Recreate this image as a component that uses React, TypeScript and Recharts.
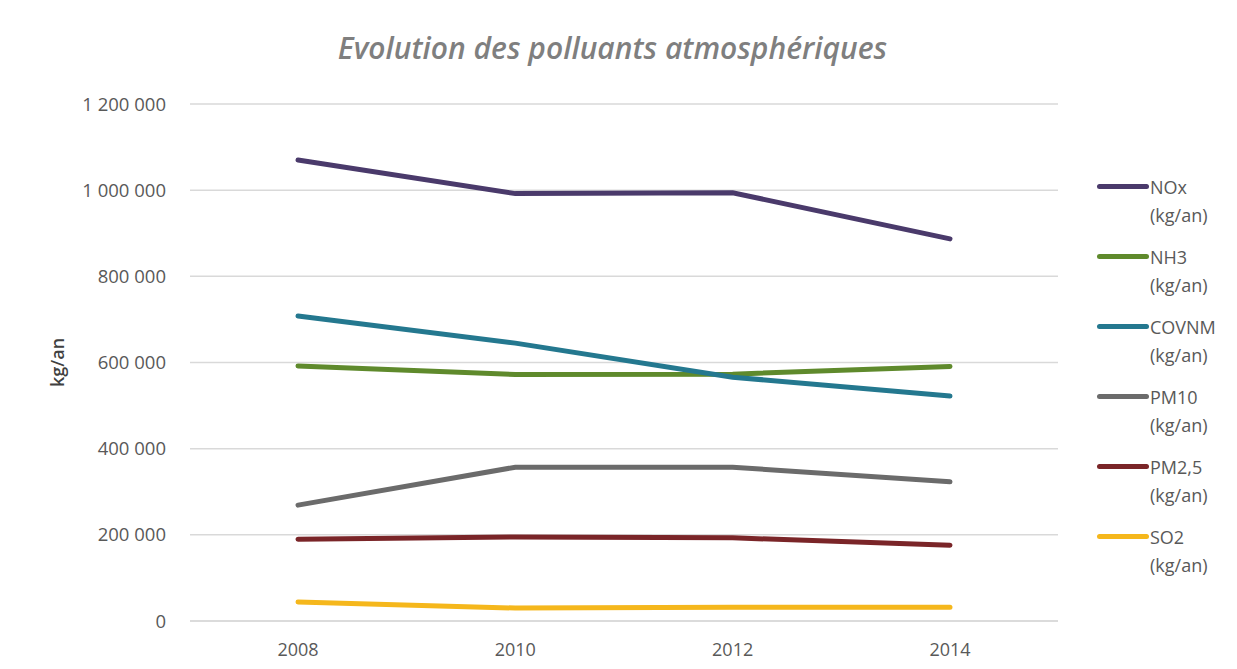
import React from "react";
import { LineChart, Line, XAxis, YAxis, CartesianGrid, Legend } from "recharts";

const years = ["2008", "2010", "2012", "2014"];
const nox = [1070000, 992000, 994000, 887000];
const nh3 = [592000, 572000, 573000, 591000];
const covnm = [708000, 645000, 566000, 522000];
const pm10 = [269000, 357000, 357000, 323000];
const pm25 = [190000, 195000, 193000, 176000];
const so2 = [44000, 30000, 32000, 32000];
const yTicks = [0, 200000, 400000, 600000, 800000, 1000000, 1200000];

const series = [
  { key: "nox", name: "NOx", unit: "(kg/an)", color: "#4a3a6b", values: nox },
  { key: "nh3", name: "NH3", unit: "(kg/an)", color: "#5f8a2c", values: nh3 },
  { key: "covnm", name: "COVNM", unit: "(kg/an)", color: "#24788f", values: covnm },
  { key: "pm10", name: "PM10", unit: "(kg/an)", color: "#6b6b6b", values: pm10 },
  { key: "pm25", name: "PM2,5", unit: "(kg/an)", color: "#7a2528", values: pm25 },
  { key: "so2", name: "SO2", unit: "(kg/an)", color: "#f5b71c", values: so2 },
];

const data = years.map((y, i) => {
  const row: Record<string, string | number> = { year: y };
  series.forEach((s) => {
    row[s.key] = s.values[i];
  });
  return row;
});

const fmt = (v: number) => String(v).replace(/\B(?=(\d{3})+(?!\d))/g, " ");

const FONT = "'Open Sans', sans-serif";

const LegendContent = () => (
  <div style={{ fontFamily: FONT, fontSize: 18, color: "#595959" }}>
    {series.map((s) => (
      <div key={s.key} style={{ height: 70, position: "relative" }}>
        <div
          style={{
            position: "absolute",
            left: 0,
            top: 11,
            width: 52,
            height: 5,
            borderRadius: 3,
            background: s.color,
          }}
        />
        <div style={{ position: "absolute", left: 53, top: 0, lineHeight: "28px" }}>
          {s.name}
          <br />
          {s.unit}
        </div>
      </div>
    ))}
  </div>
);

export default function App() {
  return (
    <div style={{ position: "absolute", left: 0, top: 0, width: 1237, height: 669, background: "#fff" }}>
      <div
        style={{
          position: "absolute",
          left: 0,
          width: 1225,
          top: 27,
          textAlign: "center",
          fontFamily: FONT,
          fontStyle: "italic",
          fontWeight: 600,
          fontSize: 30,
          color: "#7f7f7f",
        }}
      >
        Evolution des polluants atmosphériques
      </div>
      <LineChart
        width={1237}
        height={669}
        data={data}
        margin={{ top: 104, right: 39, bottom: 18, left: 0 }}
      >
        <CartesianGrid vertical={false} stroke="#d9d9d9" strokeWidth={1.5} />
        <XAxis
          dataKey="year"
          height={30}
          padding={{ left: 108, right: 108 }}
          axisLine={{ stroke: "#d9d9d9", strokeWidth: 1.5 }}
          tickLine={false}
          tickSize={0}
          tickMargin={22}
          tick={{ fill: "#595959", fontSize: 18, fontFamily: FONT }}
        />
        <YAxis
          width={190}
          domain={[0, 1200000]}
          ticks={yTicks}
          tickFormatter={fmt}
          axisLine={false}
          tickLine={false}
          tickSize={0}
          tickMargin={24}
          tick={{ fill: "#595959", fontSize: 18.5, fontFamily: FONT }}
          label={{
            value: "kg/an",
            angle: -90,
            position: "insideLeft",
            offset: 58,
            style: { fill: "#404040", fontSize: 18, fontFamily: FONT, fontWeight: 600, textAnchor: "middle" },
          }}
        />
        <Legend
          layout="vertical"
          align="right"
          verticalAlign="top"
          content={<LegendContent />}
          wrapperStyle={{ left: 1097, top: 173, width: 140 }}
        />
        {series.map((s) => (
          <Line
            key={s.key}
            type="linear"
            dataKey={s.key}
            name={s.name}
            stroke={s.color}
            strokeWidth={5}
            strokeLinecap="round"
            dot={false}
            activeDot={false}
            isAnimationActive={false}
          />
        ))}
      </LineChart>
    </div>
  );
}
